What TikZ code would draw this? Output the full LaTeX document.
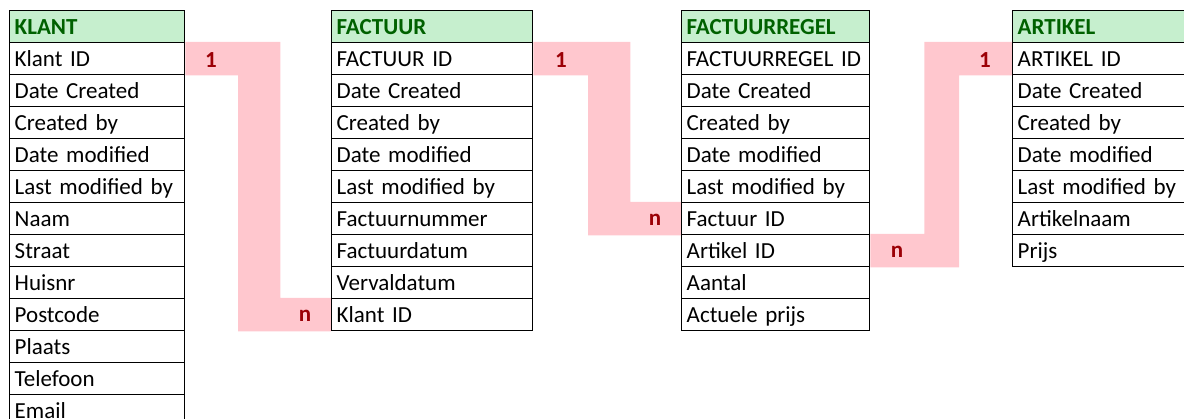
\documentclass[tikz,border=0pt]{standalone}
\usepackage{fontspec}
\setmainfont{Carlito}
\usetikzlibrary{calc,backgrounds}
\definecolor{kopgroen}{HTML}{C6EFCE}
\definecolor{koptekst}{HTML}{006100}
\definecolor{relroze}{HTML}{FFC7CE}
\definecolor{reltekst}{HTML}{9C0006}
\tikzset{
	cel/.style={draw=black, line width=1.4pt, anchor=north west, minimum height=32pt,
		inner xsep=5pt, inner ysep=0pt, align=left, text height=16pt, text depth=1pt,
		font=\fontsize{23}{28}\selectfont},
	kop/.style={cel, fill=kopgroen, text=koptekst, font=\fontsize{23}{28}\selectfont\bfseries},
	klantkol/.style={text width=165pt},
	factkol/.style={text width=191pt},
	regelkol/.style={text width=178pt},
	artkol/.style={text width=200pt},
	relatie/.style={fill=relroze},
	kard/.style={text=reltekst, font=\fontsize{23}{28}\selectfont\bfseries}
}

\begin{document}
\begin{tikzpicture}[x=1pt, y=-1pt]
			%%%%% START %%%%%
			\useasboundingbox (0,0) rectangle (1184,419);
			
			% KLANT
			\node[kop, klantkol] (k0) at (9,10) {KLANT};
			\node[cel, klantkol] (k1) at (9,42) {Klant ID};
			\node[cel, klantkol] (k2) at (9,74) {Date Created};
			\node[cel, klantkol] (k3) at (9,106) {Created by};
			\node[cel, klantkol] (k4) at (9,138) {Date modified};
			\node[cel, klantkol] (k5) at (9,170) {Last modified by};
			\node[cel, klantkol] (k6) at (9,202) {Naam};
			\node[cel, klantkol] (k7) at (9,234) {Straat};
			\node[cel, klantkol] (k8) at (9,266) {Huisnr};
			\node[cel, klantkol] (k9) at (9,298) {Postcode};
			\node[cel, klantkol] (k10) at (9,330) {Plaats};
			\node[cel, klantkol] (k11) at (9,362) {Telefoon};
			\node[cel, klantkol] (k12) at (9,394) {Email};
			
			% FACTUUR
			\node[kop, factkol] (f0) at (331,10) {FACTUUR};
			\node[cel, factkol] (f1) at (331,42) {FACTUUR ID};
			\node[cel, factkol] (f2) at (331,74) {Date Created};
			\node[cel, factkol] (f3) at (331,106) {Created by};
			\node[cel, factkol] (f4) at (331,138) {Date modified};
			\node[cel, factkol] (f5) at (331,170) {Last modified by};
			\node[cel, factkol] (f6) at (331,202) {Factuurnummer};
			\node[cel, factkol] (f7) at (331,234) {Factuurdatum};
			\node[cel, factkol] (f8) at (331,266) {Vervaldatum};
			\node[cel, factkol] (f9) at (331,298) {Klant ID};
			
			% FACTUURREGEL
			\node[kop, regelkol] (r0) at (681,10) {FACTUURREGEL};
			\node[cel, regelkol] (r1) at (681,42) {FACTUURREGEL ID};
			\node[cel, regelkol] (r2) at (681,74) {Date Created};
			\node[cel, regelkol] (r3) at (681,106) {Created by};
			\node[cel, regelkol] (r4) at (681,138) {Date modified};
			\node[cel, regelkol] (r5) at (681,170) {Last modified by};
			\node[cel, regelkol] (r6) at (681,202) {Factuur ID};
			\node[cel, regelkol] (r7) at (681,234) {Artikel ID};
			\node[cel, regelkol] (r8) at (681,266) {Aantal};
			\node[cel, regelkol] (r9) at (681,298) {Actuele prijs};
			
			% ARTIKEL
			\node[kop, artkol] (a0) at (1012,10) {ARTIKEL};
			\node[cel, artkol] (a1) at (1012,42) {ARTIKEL ID};
			\node[cel, artkol] (a2) at (1012,74) {Date Created};
			\node[cel, artkol] (a3) at (1012,106) {Created by};
			\node[cel, artkol] (a4) at (1012,138) {Date modified};
			\node[cel, artkol] (a5) at (1012,170) {Last modified by};
			\node[cel, artkol] (a6) at (1012,202) {Artikelnaam};
			\node[cel, artkol] (a7) at (1012,234) {Prijs};
			
			% relaties
			\begin{scope}[on background layer]
			\fill[relatie] (k1.north east) -- ++(95,0) |- (f9.north west) -- (f9.south west) -- ++(-93,0) |- (k1.south east) -- cycle;
			\fill[relatie] (f1.north east) -- ++(97,0) |- (r6.north west) -- (r6.south west) -- ++(-93,0) |- (f1.south east) -- cycle;
			\fill[relatie] (r7.north east) -- ++(54,0) |- (a1.north west) -- (a1.south west) -- ++(-53,0) |- (r7.south east) -- cycle;
			\end{scope}
			
			\node[kard] (een1) at (211,60) {1};
			\node[kard] (veel1) at (305,316) {n};
			\node[kard] (een2) at (561,60) {1};
			\node[kard] (veel2) at (655,220) {n};
			\node[kard] (een3) at (985,60) {1};
			\node[kard] (veel3) at (897,252) {n};
			
			%%%%% END %%%%%
\end{tikzpicture}
\end{document}
